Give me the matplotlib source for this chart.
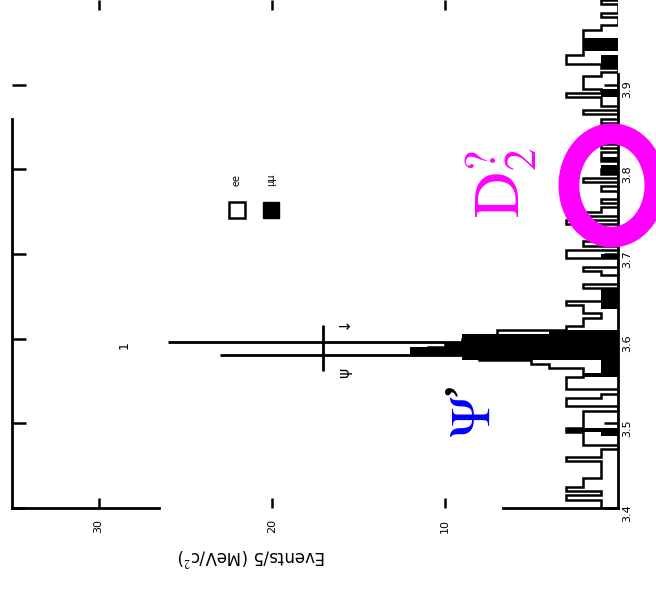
import matplotlib.pyplot as plt
import numpy as np
from matplotlib.patches import Ellipse

plt.rcParams['mathtext.fontset'] = 'stix'
plt.rcParams['font.family'] = ['DejaVu Sans']

# mass range of the histogram, 5 MeV bins
mass_lo, mass_hi = 3.4, 4.0
n_bins = 120

# open histogram (outline), one value per 5 MeV bin from 3.400 upwards
open_counts = [
    1, 1, 3, 1, 3, 2, 2, 1, 1, 1,
    1, 3, 1, 1, 0, 2, 2, 2, 3, 2,
    2, 2, 2, 0, 3, 3, 1, 0, 3, 3,
    3, 2, 2, 4, 5, 8, 8, 11, 10, 9,
    7, 7, 3, 2, 2, 1, 2, 2, 3, 0,
    0, 0, 2, 0, 0, 1, 2, 0, 0, 3,
    3, 0, 2, 0, 0, 1, 0, 3, 0, 2,
    1, 0, 1, 0, 0, 1, 0, 2, 0, 1,
    0, 0, 1, 1, 0, 1, 0, 0, 1, 0,
    0, 1, 0, 2, 0, 1, 1, 3, 1, 2,
    2, 2, 1, 0, 1, 3, 3, 2, 2, 2,
    2, 2, 2, 1, 0, 0, 1, 0, 0, 1,
]

# filled histogram
filled_counts = [
    0, 0, 0, 0, 0, 0, 0, 0, 0, 0,
    0, 0, 0, 0, 0, 0, 0, 1, 3, 0,
    0, 0, 0, 0, 0, 0, 0, 0, 0, 0,
    0, 2, 1, 1, 1, 9, 12, 12, 10, 9,
    9, 4, 0, 0, 0, 0, 0, 1, 1, 1,
    1, 1, 0, 0, 0, 0, 0, 0, 0, 1,
    0, 0, 0, 0, 0, 0, 0, 0, 0, 0,
    0, 0, 0, 0, 0, 0, 0, 0, 0, 1,
    1, 0, 1, 0, 0, 0, 0, 0, 0, 0,
    0, 0, 0, 0, 0, 0, 0, 1, 1, 0,
    0, 0, 0, 0, 1, 1, 1, 0, 2, 2,
    2, 0, 0, 0, 0, 0, 0, 0, 0, 0,
]

# the two tall single-line entries at the peak
spike_mass = [3.5957, 3.5812]
spike_counts = [26, 23]

count_ticks = [10, 20, 30]
mass_ticks = [3.4, 3.5, 3.6, 3.7, 3.8, 3.9]
ylabel = 'Events/5 (MeV/c$^2$)'

edges = np.linspace(mass_lo, mass_hi, n_bins + 1)

fig = plt.figure(figsize=(6.56, 5.90), dpi=100)
ax = fig.add_axes([12 / 656, 82 / 590, 606 / 656, 508 / 590])

ax.stairs(filled_counts, edges, orientation='horizontal', fill=True,
          color='black', zorder=2)
ax.stairs(open_counts, edges, orientation='horizontal', color='black',
          lw=1.8, zorder=3)
ax.hlines(spike_mass, 0, spike_counts, color='black', lw=2, zorder=3)

ax.set_xlim(35.0, 0)
ax.set_ylim(mass_lo, mass_hi)

# frame (partly lost in the scan)
for s in ['left', 'right', 'top', 'bottom']:
    ax.spines[s].set_linewidth(2)
ax.spines['top'].set_visible(False)
ax.spines['bottom'].set_visible(False)
ax.spines['left'].set_bounds(3.4, 3.859)
ax.spines['right'].set_bounds(3.4, 3.913)
ax.plot([35.0, 26.5], [3.4, 3.4], color='black', lw=2, clip_on=False)
ax.plot([6.65, 0], [3.4, 3.4], color='black', lw=2, clip_on=False)

ax.set_xticks(count_ticks)
ax.set_yticks(mass_ticks)
ax.tick_params(axis='x', top=True, bottom=True, direction='in', length=7,
               width=1.8, labelrotation=90, labelsize=8, pad=8)
ax.tick_params(axis='y', left=True, right=True, labelleft=False,
               labelright=True, direction='in', length=10, width=1.8,
               labelrotation=90, labelsize=8, pad=3)

ax.text(0.396, -0.0965, ylabel, transform=ax.transAxes, rotation=180,
        ha='center', va='center', fontsize=12)

# annotations
ax.vlines(17.05, 3.562, 3.616, color='black', lw=2)
ax.text(15.84, 3.619, '↓', rotation=90, ha='center', va='center', fontsize=11)
ax.text(15.8, 3.560, 'ψ', rotation=90, ha='center', va='center', fontsize=11)
ax.text(28.5, 3.592, '1', rotation=90, ha='center', va='center', fontsize=9)

ax.text(8.27, 3.508, r'$\Psi$', color='blue', rotation=90, ha='center',
        va='center', fontsize=40)
ax.text(9.1, 3.540, '’', color='black', rotation=90, ha='center',
        va='center', fontsize=30, family='Liberation Serif', weight='bold')

ax.text(6.75, 3.784, r'$\mathrm{D}_2^?$', color='#ff00ff', rotation=90,
        ha='center', va='center', fontsize=46)
ax.add_patch(Ellipse((0.35, 3.781), width=4.97, height=0.122, fill=False,
                     edgecolor='#ff00ff', lw=15, clip_on=False, zorder=5))

# legend, drawn in axes coordinates
ax.plot([0.371], [0.587], marker='s', ms=11, mfc='white', mec='black',
        mew=1.8, transform=ax.transAxes, clip_on=False)
ax.plot([0.427], [0.587], marker='s', ms=12, color='black',
        transform=ax.transAxes, clip_on=False)
ax.text(0.371, 0.646, 'ee', rotation=90, ha='center', va='center',
        fontsize=7, transform=ax.transAxes)
ax.text(0.427, 0.646, 'μμ', rotation=90, ha='center', va='center',
        fontsize=7, transform=ax.transAxes)

fig.savefig('out.png', dpi=100)
